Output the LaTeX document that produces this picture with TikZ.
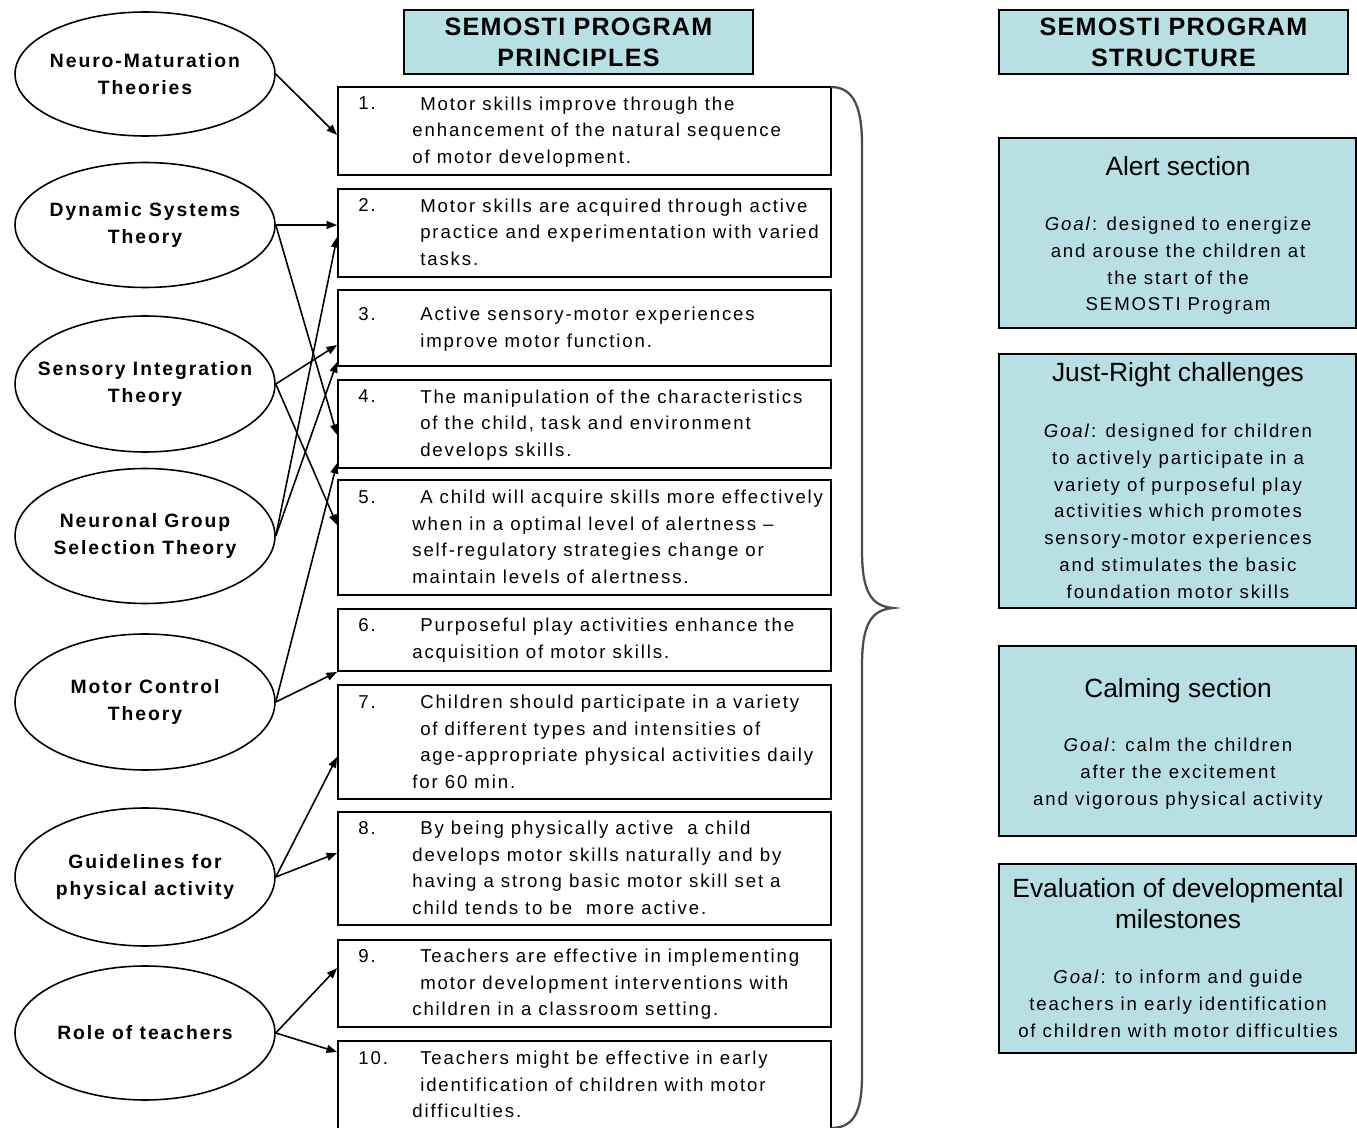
\documentclass[tikz,border=0pt]{standalone}
\usepackage{fontspec}
\setmainfont{Liberation Sans}
\newfontfamily\spaced[LetterSpace=10]{Liberation Sans}
\newfontfamily\headfont[LetterSpace=5]{Liberation Sans}
\usetikzlibrary{shapes.geometric,arrows.meta,positioning}
\definecolor{paleblue}{RGB}{184,223,228}
\newcommand{\sk}{\hspace*{4.5pt}}

\begin{document}
\begin{tikzpicture}[x=0.02cm,y=-0.02cm,
    theory/.style={ellipse,draw,line width=0.9pt,minimum width=5.2cm,inner xsep=-0.5cm,inner ysep=0pt,
      align=center,font=\spaced\bfseries\fontsize{11}{15}\selectfont},
    principle/.style={rectangle,draw,line width=1.1pt,minimum width=9.86cm,inner sep=0pt},
    ptext/.style={anchor=north west,inner sep=0pt,align=left,font=\spaced\fontsize{10.6}{15.1}\selectfont},
    heading/.style={rectangle,draw,line width=1.1pt,fill=paleblue,minimum width=6.98cm,
      minimum height=1.28cm,align=center,font=\headfont\bfseries\fontsize{14.3}{17.6}\selectfont},
    structbox/.style={rectangle,draw,line width=1.1pt,fill=paleblue,minimum width=7.14cm},
    stitle/.style={inner sep=0pt,align=center,font=\fontsize{15}{17}\selectfont},
    sgoal/.style={anchor=north,inner sep=0pt,align=center,font=\spaced\fontsize{10.6}{15.3}\selectfont},
    link/.style={-{Triangle[length=6pt,width=4.5pt]},line width=0.9pt}]

  \useasboundingbox (0,0) rectangle (1357,1128);

  % theories
  \node[theory,minimum height=2.48cm] (neuro) at (145,74) {Neuro-Maturation\\Theories};
  \node[theory,minimum height=2.5cm] (dynamic) at (145,225) {Dynamic Systems\\Theory};
  \node[theory,minimum height=2.72cm] (sensory) at (145,384) {Sensory Integration\\Theory};
  \node[theory,minimum height=2.7cm] (neuronal) at (145,536) {Neuronal Group\\Selection Theory};
  \node[theory,minimum height=2.72cm] (motor) at (145,702) {Motor Control\\Theory};
  \node[theory,minimum height=2.76cm] (guide) at (145,877) {Guidelines for\\physical activity};
  \node[theory,minimum height=2.68cm] (teachers) at (145,1033) {Role of teachers};

  % principles
  \node[heading] (princhead) at (578.5,42) {SEMOSTI PROGRAM\\PRINCIPLES};

  \node[principle,minimum height=1.76cm] (p1) at (584.5,131) {};
  \node[principle,minimum height=1.76cm] (p2) at (584.5,233) {};
  \node[principle,minimum height=1.52cm] (p3) at (584.5,328) {};
  \node[principle,minimum height=1.76cm] (p4) at (584.5,424) {};
  \node[principle,minimum height=2.3cm] (p5) at (584.5,537.5) {};
  \node[principle,minimum height=1.24cm] (p6) at (584.5,640) {};
  \node[principle,minimum height=2.28cm] (p7) at (584.5,742) {};
  \node[principle,minimum height=2.26cm] (p8) at (584.5,868.5) {};
  \node[principle,minimum height=1.74cm] (p9) at (584.5,983.5) {};
  \node[principle,minimum height=1.78cm] (p10) at (584.5,1085.5) {};

  \node[ptext] (n1) at (358,96.5) {1.};
  \node[ptext] (t1) at (412,96.5) {\sk Motor skills improve through the\\enhancement of the natural sequence\\of motor development.};
  \node[ptext] (n2) at (358,198.5) {2.};
  \node[ptext] (t2) at (412,198.5) {\sk Motor skills are acquired through active\\\sk practice and experimentation with varied\\\sk tasks.};
  \node[ptext] (n3) at (358,307) {3.};
  \node[ptext] (t3) at (412,307) {\sk Active sensory-motor experiences\\\sk improve motor function.};
  \node[ptext] (n4) at (358,389.5) {4.};
  \node[ptext] (t4) at (412,389.5) {\sk The manipulation of the characteristics\\\sk of the child, task and environment\\\sk develops skills.};
  \node[ptext] (n5) at (358,490) {5.};
  \node[ptext] (t5) at (412,490) {\sk A child will acquire skills more effectively\\when in a optimal level of alertness –\\self-regulatory strategies change or\\maintain levels of alertness.};
  \node[ptext] (n6) at (358,618) {6.};
  \node[ptext] (t6) at (412,618) {\sk Purposeful play activities enhance the\\acquisition of motor skills.};
  \node[ptext] (n7) at (358,695) {7.};
  \node[ptext] (t7) at (412,695) {\sk Children should participate in a variety\\\sk of different types and intensities of\\\sk age-appropriate physical activities daily\\for 60 min.};
  \node[ptext] (n8) at (358,821) {8.};
  \node[ptext] (t8) at (412,821) {\sk By being physically active\ \ a child\\develops motor skills naturally and by\\having a strong basic motor skill set a\\child tends to be\ \ more active.};
  \node[ptext] (n9) at (358,949) {9.};
  \node[ptext] (t9) at (412,949) {\sk Teachers are effective in implementing\\\sk motor development interventions with\\children in a classroom setting.};
  \node[ptext] (n10) at (358,1051) {10.};
  \node[ptext] (t10) at (412,1051) {\sk Teachers might be effective in early\\\sk identification of children with motor\\difficulties.};

  % brace
  \draw[line width=1.3pt,black!70] (831,87) .. controls (855,87) and (862,110) .. (862,145)
    -- (862,550) .. controls (862,590) and (870,606) .. (893,608)
    .. controls (870,610) and (862,626) .. (862,666)
    -- (862,1075) .. controls (862,1110) and (855,1128) .. (831,1128);

  % structure
  \node[heading] (structhead) at (1173.5,42) {SEMOSTI PROGRAM\\STRUCTURE};

  \node[structbox,minimum height=3.8cm] (alert) at (1177.5,233) {};
  \node[stitle,anchor=base] (alerttitle) at (1178,176) {Alert section};
  \node[sgoal] (alertgoal) at (1178,216.5) {\textit{Goal}: designed to energize\\and arouse the children at\\the start of the\\SEMOSTI Program};

  \node[structbox,minimum height=5.08cm] (just) at (1177.5,481) {};
  \node[stitle,anchor=base] (justtitle) at (1178,382) {Just-Right challenges};
  \node[sgoal] (justgoal) at (1178,423.5) {\textit{Goal}: designed for children\\to actively participate in a\\variety of purposeful play\\activities which promotes\\sensory-motor experiences\\and stimulates the basic\\foundation motor skills};

  \node[structbox,minimum height=3.8cm] (calm) at (1177.5,741) {};
  \node[stitle,anchor=base] (calmtitle) at (1178,698) {Calming section};
  \node[sgoal] (calmgoal) at (1178,737.5) {\textit{Goal}: calm the children\\after the excitement\\and vigorous physical activity};

  \node[structbox,minimum height=3.78cm] (eval) at (1177.5,958.5) {};
  \node[stitle,anchor=north,font=\fontsize{15}{17.5}\selectfont] (evaltitle) at (1178,878.5) {Evaluation of developmental\\milestones};
  \node[sgoal] (evalgoal) at (1178,969.5) {\textit{Goal}: to inform and guide\\teachers in early identification\\of children with motor difficulties};

  % links
  \path[link]
    (neuro.east) edge ([yshift=-0.08cm]p1.west)
    (dynamic.east) edge ([yshift=0.16cm]p2.west)
                   edge ([yshift=-0.22cm]p4.west)
    (sensory.east) edge ([yshift=-0.34cm]p3.west)
                   edge ([yshift=0.25cm]p5.west)
    (neuronal.east) edge ([yshift=-0.08cm]p2.west)
                    edge ([yshift=-0.68cm]p3.west)
    (motor.east) edge ([yshift=-0.78cm]p4.west)
                 edge (p6.south west)
    (guide.east) edge ([yshift=-0.3cm]p7.west)
                 edge ([yshift=0.31cm]p8.west)
    (teachers.east) edge ([yshift=0.31cm]p9.west)
                    edge ([yshift=0.67cm]p10.west);
\end{tikzpicture}
\end{document}
